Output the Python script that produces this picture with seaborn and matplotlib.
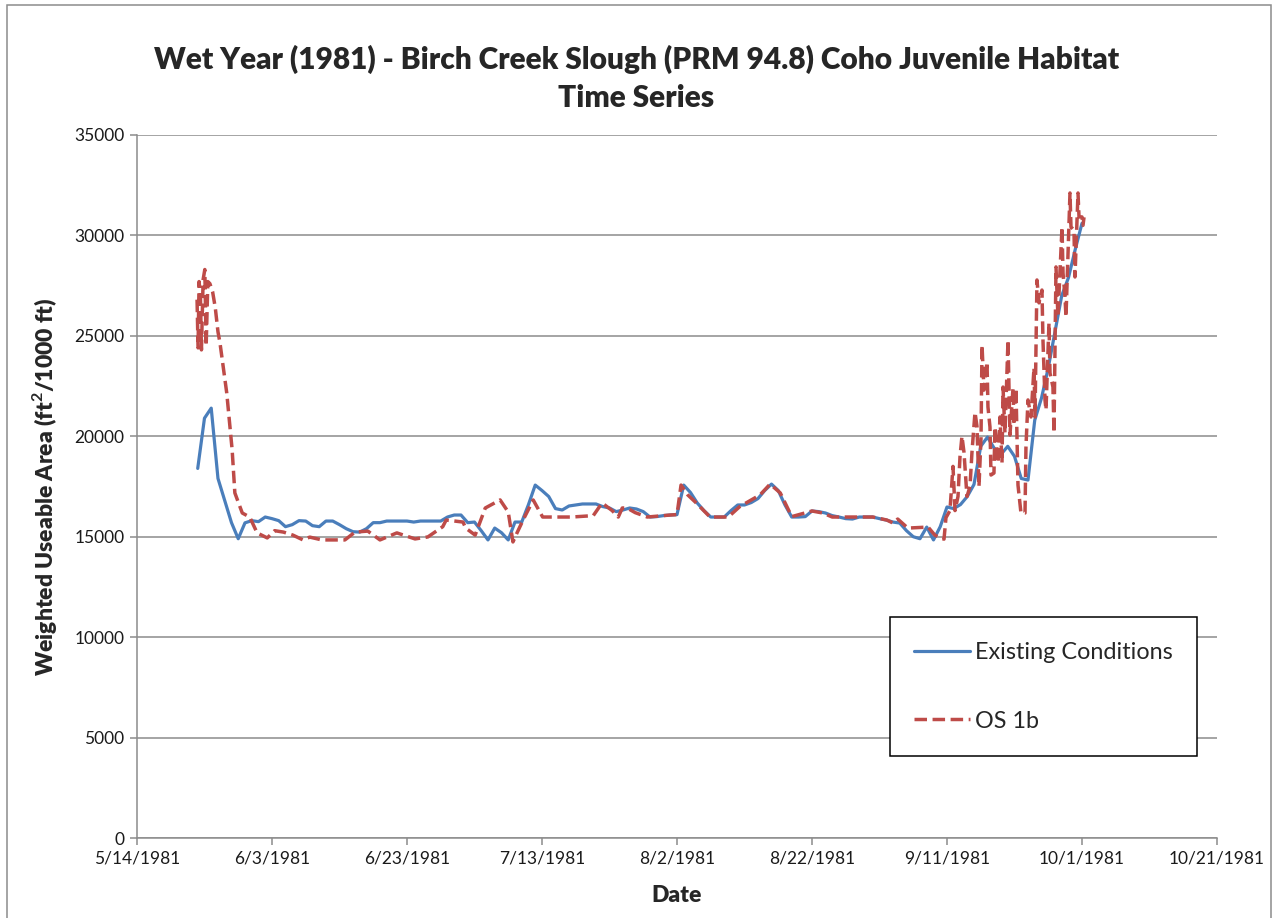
import numpy as np
import pandas as pd
import matplotlib
matplotlib.use("Agg")
import matplotlib.pyplot as plt
import matplotlib.dates as mdates
from matplotlib.ticker import FuncFormatter, MultipleLocator
from matplotlib.patches import Rectangle
import seaborn as sns

# ---- data -------------------------------------------------------------
start = pd.Timestamp("1981-05-14")

# Existing Conditions: daily WUA, 23 May - 1 Oct 1981
ec_first_day = 9  # days after 14 May 1981
ec_wua = [
    18400, 20900, 21400, 17900, 16800, 15700, 14900, 15690, 15800, 15750,
    15980, 15900, 15800, 15500, 15600, 15800, 15780, 15550, 15500, 15780,
    15780, 15600, 15400, 15250, 15230, 15400, 15700, 15700, 15780, 15780,
    15780, 15780, 15730, 15780, 15780, 15780, 15780, 15980, 16080, 16080,
    15700, 15730, 15300, 14840, 15430, 15200, 14840, 15730, 15730, 16600,
    17570, 17300, 17000, 16400, 16330, 16530, 16580, 16630, 16630, 16630,
    16500, 16430, 16250, 16330, 16430, 16380, 16250, 15980, 16000, 16050,
    16080, 16100, 17570, 17200, 16680, 16300, 15980, 15980, 15980, 16300,
    16580, 16580, 16700, 16900, 17300, 17620, 17300, 16580, 15980, 15980,
    16000, 16280, 16250, 16180, 16050, 15980, 15900, 15880, 15980, 15980,
    15980, 15900, 15830, 15730, 15680, 15300, 15000, 14900, 15480, 14840,
    15500, 16480, 16400, 16600, 17000, 17600, 19500, 19960, 19400, 19100,
    19500, 19000, 17900, 17820, 20800, 21900, 23400, 25200, 27000, 27900,
    29300, 30600,
]

# OS 1b: sub-daily WUA (time in days after 14 May 1981)
os_day = [
    8.90, 9.05, 9.20, 9.40, 9.55, 9.80, 10.05, 10.25, 10.50, 10.80,
    11.20, 11.60, 12.00, 12.30, 13.30, 14.10, 14.50, 15.60, 16.70, 17.80,
    19.30, 20.40, 21.70, 23.10, 24.60, 25.60, 27.40, 29.00, 30.80, 32.30,
    34.20, 36.00, 38.50, 41.20, 43.10, 45.30, 45.80, 48.30, 48.70, 50.10,
    51.60, 53.80, 55.00, 55.70, 56.30, 57.20, 58.70, 60.10, 62.20, 64.40,
    67.60, 68.90, 70.40, 71.30, 71.90, 72.60, 73.80, 75.60, 79.00, 80.00,
    80.60, 81.60, 82.70, 84.90, 87.60, 89.30, 92.30, 93.80, 95.30, 97.00,
    100.00, 101.60, 103.00, 104.60, 109.00, 111.10, 112.00, 112.70, 114.20, 117.20,
    118.20, 118.96, 119.56, 119.85, 120.44, 120.89, 121.19, 121.63, 121.93, 122.22,
    122.52, 122.96, 123.41, 123.70, 124.15, 124.44, 124.74, 125.04, 125.19, 125.48,
    125.93, 126.07, 126.37, 126.52, 126.96, 127.11, 127.56, 127.85, 128.15, 128.30,
    128.59, 129.04, 129.33, 129.78, 129.93, 130.22, 130.52, 130.96, 131.56, 131.70,
    132.00, 132.44, 132.89, 133.04, 133.33, 133.63, 134.07, 134.22, 134.52, 134.67,
    135.11, 135.26, 135.70, 135.85, 136.15, 136.44, 137.04, 137.19, 137.48, 137.63,
    138.22, 138.37, 138.81, 138.96, 139.41, 139.56, 140.00, 140.15, 140.30,
]
os_wua = [
    26800, 24400, 27700, 27000, 24300, 27800, 28300, 24500, 27700, 27600,
    27200, 26400, 25200, 24640, 22150, 19320, 17180, 16180, 15980, 15190,
    14940, 15300, 15230, 15080, 14840, 14980, 14840, 14840, 14840, 15230,
    15280, 14840, 15190, 14890, 14990, 15500, 15830, 15730, 15430, 15080,
    16430, 16830, 16230, 14740, 15190, 15830, 16830, 15980, 15980, 15980,
    16050, 16680, 16300, 15980, 16430, 16430, 16200, 15980, 16080, 16100,
    17570, 17080, 16730, 15980, 15980, 16500, 17080, 17620, 17180, 16000,
    16280, 16180, 15980, 15980, 15980, 15830, 15680, 15880, 15430, 15480,
    15080, 14940, 14880, 15950, 16300, 18500, 16300, 17000, 19000, 20000,
    19200, 17000, 17500, 19200, 21200, 20500, 17500, 19900, 24540, 22300,
    23700, 21460, 20460, 18070, 18170, 20460, 18670, 20960, 18670, 22450,
    20160, 24790, 20060, 22400, 20560, 22400, 17570, 16180, 16180, 19470,
    21810, 20960, 23400, 20960, 27780, 26640, 27280, 24790, 21810, 21310,
    25640, 23150, 22450, 20160, 28430, 25940, 30420, 28130, 26940, 25940,
    32110, 30420, 30270, 27930, 32110, 30920, 30920, 30500, 30900,
]

title = ("Wet Year (1981) - Birch Creek Slough (PRM 94.8) Coho Juvenile Habitat\n"
         "Time Series")
ylabel = "Weighted Useable Area (ft$^{\\mathbf{2}}$/1000 ft)"
xlabel = "Date"
series_names = ["Existing Conditions", "OS 1b"]

ec = pd.DataFrame({
    "date": start + pd.to_timedelta(np.arange(len(ec_wua)) + ec_first_day, unit="D"),
    "wua": ec_wua,
})
os1b = pd.DataFrame({
    "date": start + pd.to_timedelta(os_day, unit="D"),
    "wua": os_wua,
})

# ---- style ------------------------------------------------------------
sns.set_theme(style="white")
plt.rcParams["font.family"] = ["Lato", "DejaVu Sans"]
plt.rcParams["mathtext.fontset"] = "custom"
plt.rcParams["mathtext.bf"] = "Lato:bold"

blue = "#4A7EBB"
red = "#BE4B48"
grid_grey = "#8C8C8C"

fig = plt.figure(figsize=(12.73, 9.18), dpi=100)
ax = fig.add_axes([0.1076, 0.0871, 0.8484, 0.7659])

sns.lineplot(data=ec, x="date", y="wua", ax=ax, color=blue, lw=2.3,
             estimator=None, sort=False, label=series_names[0])
sns.lineplot(data=os1b, x="date", y="wua", ax=ax, color=red, lw=2.5,
             estimator=None, sort=False, label=series_names[1],
             linestyle=(0, (3.6, 1.6)))

ax.set_xlim(pd.Timestamp("1981-05-14"), pd.Timestamp("1981-10-21"))
ax.set_ylim(0, 35000)
ax.yaxis.set_major_locator(MultipleLocator(5000))
tick_dates = pd.date_range("1981-05-14", "1981-10-21", freq="20D")
ax.set_xticks(tick_dates)
ax.xaxis.set_major_formatter(FuncFormatter(
    lambda v, _: (lambda d: f"{d.month}/{d.day}/{d.year}")(mdates.num2date(v))))

ax.grid(axis="y", color=grid_grey, lw=1.1)
ax.set_axisbelow(True)
for side in ["top", "right"]:
    ax.spines[side].set_visible(False)
for side in ["left", "bottom"]:
    ax.spines[side].set_color(grid_grey)
    ax.spines[side].set_linewidth(1.1)
ax.tick_params(axis="both", which="major", direction="out", length=5,
               width=1.1, color=grid_grey, labelsize=12.5, labelcolor="#1a1a1a",
               bottom=True, left=True, pad=4)

ax.set_xlabel(xlabel, fontsize=16.5, fontweight="heavy", labelpad=13)
ax.set_ylabel(ylabel, fontsize=16.5, fontweight="heavy", labelpad=11)
fig.suptitle(title, fontsize=21.5, fontweight="heavy", y=0.951, linespacing=1.45)

leg = ax.legend(loc="upper left", bbox_to_anchor=(0.697, 0.314),
                frameon=True, fancybox=False, framealpha=1, edgecolor="black",
                fontsize=16.8, handlelength=2.4, handletextpad=0.2,
                labelspacing=2.05, borderpad=1.05, borderaxespad=0)
leg.get_frame().set_linewidth(1.1)

# outer chart border
fig.patches.append(Rectangle((7 / 1273, -0.02), 1264 / 1273, 1.02 - 5 / 918,
                             transform=fig.transFigure, fill=False,
                             edgecolor="#8C8C8C", lw=1.1))

fig.savefig("out.png", dpi=100)
